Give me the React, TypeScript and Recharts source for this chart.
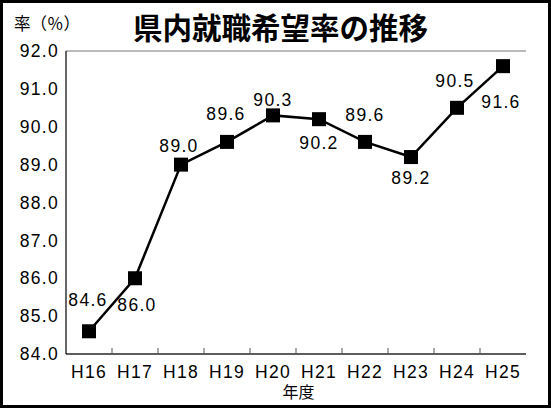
import React from 'react';
import { LineChart, Line, XAxis, YAxis, CartesianGrid, LabelList } from 'recharts';

const years = ['H16', 'H17', 'H18', 'H19', 'H20', 'H21', 'H22', 'H23', 'H24', 'H25'];
const rates = [84.6, 86.0, 89.0, 89.6, 90.3, 90.2, 89.6, 89.2, 90.5, 91.6];
const yTicks = [84, 85, 86, 87, 88, 89, 90, 91, 92];

// label placement (layout only): offsets of each value label from its point
const labelDx = [-1, 2, -2, -1, 0, 0, 0, 0, -2, -2];
const labelDy = [-31, 27, -19, -27.5, -15, 23.5, -27, 20.5, -27, 36];

const data = years.map((y, i) => ({ year: y, rate: rates[i] }));

const NUM_FONT = '"Liberation Sans", Arial, sans-serif';
const CJK_FONT = '"Noto Sans CJK JP", sans-serif';

const W = 551;
const H = 408;
const HALF_BAND = 23;

const Square = (props: any) => {
  const { cx, cy } = props;
  if (cx == null || cy == null) return null;
  return <rect x={cx - 7} y={cy - 7} width={14} height={14} fill="#000" />;
};

const XTick = (props: any) => {
  const { x, y, payload, index } = props;
  return (
    <g>
      {index < years.length - 1 && (
        <line x1={x + HALF_BAND} x2={x + HALF_BAND} y1={y - 6} y2={y} stroke="#555" strokeWidth={1} />
      )}
      <text
        x={x}
        y={y + 18}
        textAnchor="middle"
        dominantBaseline="central"
        fontFamily={NUM_FONT}
        fontSize={17.5}
        letterSpacing={1.3}
        fill="#000"
      >
        {payload.value}
      </text>
    </g>
  );
};

const ValueLabel = (props: any) => {
  const { x, y, index, value } = props;
  return (
    <text
      x={x + labelDx[index]}
      y={y + labelDy[index]}
      textAnchor="middle"
      dominantBaseline="central"
      fontFamily={NUM_FONT}
      fontSize={17.5}
      letterSpacing={1.3}
      fill="#000"
    >
      {Number(value).toFixed(1)}
    </text>
  );
};

export default function App() {
  return (
    <div
      style={{
        position: 'absolute',
        left: 0,
        top: 0,
        width: W,
        height: H,
        background: '#fff',
        overflow: 'hidden',
      }}
    >
      <LineChart
        width={W}
        height={H}
        data={data}
        margin={{ top: 51, right: 25, bottom: 0, left: 0 }}
      >
        <CartesianGrid horizontal vertical={false} stroke="#777" strokeWidth={1} />
        <XAxis
          dataKey="year"
          height={54}
          padding={{ left: HALF_BAND, right: HALF_BAND }}
          axisLine={{ stroke: '#000', strokeWidth: 1.2 }}
          tickLine={false}
          tickSize={0}
          tickMargin={0}
          interval={0}
          tick={<XTick />}
        />
        <YAxis
          yAxisId="l"
          width={66}
          domain={[84, 92]}
          ticks={yTicks}
          interval={0}
          allowDataOverflow
          axisLine={{ stroke: '#000', strokeWidth: 1.2 }}
          tickLine={false}
          tickSize={0}
          tickMargin={7}
          tickFormatter={(v: number) => v.toFixed(1)}
          tick={{ fill: '#000', fontSize: 17.5, fontFamily: NUM_FONT, letterSpacing: 1.3 } as any}
        />
        <YAxis
          yAxisId="r"
          orientation="right"
          width={0}
          domain={[84, 92]}
          ticks={yTicks}
          axisLine={{ stroke: '#777', strokeWidth: 1 }}
          tickLine={false}
          tick={false}
        />
        <Line
          yAxisId="l"
          type="linear"
          dataKey="rate"
          stroke="#000"
          strokeWidth={2.5}
          dot={<Square />}
          activeDot={false}
          isAnimationActive={false}
        >
          <LabelList dataKey="rate" content={<ValueLabel />} />
        </Line>
      </LineChart>

      <div
        style={{
          position: 'absolute',
          left: 0,
          top: 0,
          width: W,
          height: H,
          border: '3px solid #000',
          boxSizing: 'border-box',
          pointerEvents: 'none',
        }}
      />
      <div
        style={{
          position: 'absolute',
          left: 0,
          width: 561,
          top: 8,
          textAlign: 'center',
          fontFamily: CJK_FONT,
          fontWeight: 700,
          fontSize: 29.5,
          lineHeight: '37px',
          color: '#000',
          whiteSpace: 'nowrap',
        }}
      >
        県内就職希望率の推移
      </div>
      <div
        style={{
          position: 'absolute',
          left: 14,
          top: 12,
          fontFamily: CJK_FONT,
          fontSize: 16.5,
          lineHeight: '22px',
          color: '#000',
          whiteSpace: 'nowrap',
        }}
      >
        率（％）
      </div>
      <div
        style={{
          position: 'absolute',
          left: 0,
          width: 597,
          top: 381,
          textAlign: 'center',
          fontFamily: CJK_FONT,
          fontSize: 16,
          lineHeight: '20px',
          color: '#000',
          whiteSpace: 'nowrap',
        }}
      >
        年度
      </div>
    </div>
  );
}
